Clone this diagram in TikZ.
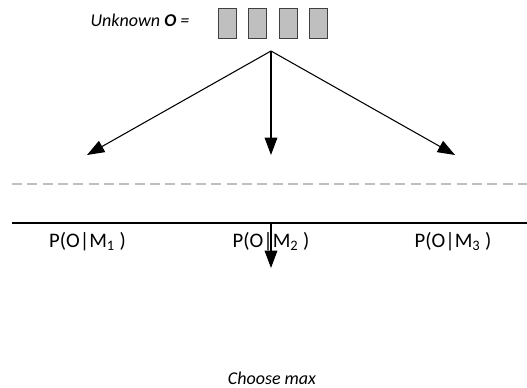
\documentclass[tikz,border=0pt]{standalone}
\usepackage{fontspec}
\setmainfont{Carlito}
\usepackage{tikz}
\usetikzlibrary{arrows.meta, positioning}

\begin{document}
\begin{tikzpicture}[
    x=0.75pt, y=-0.75pt,
    txt/.style={inner sep=0pt, font=\fontsize{13.5}{16}\selectfont},
    prob/.style={inner sep=0pt, font=\fontsize{15.5}{18}\selectfont},
    obsbox/.style={rectangle, draw=black!75, fill=black!25, line width=0.6pt, minimum width=13.5pt, minimum height=22.5pt, inner sep=0pt},
    arrow/.style={-{Triangle[length=13pt, width=9.5pt]}, line width=0.8pt},
]
\useasboundingbox (0,0) rectangle (527,388);
% observation sequence
\node[txt, font=\fontsize{13.5}{16}\selectfont\itshape] (unk) at (140,20) {Unknown \textbf{O} =};
\node[obsbox] (b1) at (227.5,23) {};
\node[obsbox] (b2) at (257.5,23) {};
\node[obsbox] (b3) at (288,23) {};
\node[obsbox] (b4) at (318,23) {};
\coordinate (top) at (271,51);
\coordinate (t1) at (87,155);
\coordinate (t2) at (271,155);
\coordinate (t3) at (455,155);
\draw[arrow] (top) -- (t1);
\draw[arrow] (top) -- (t2);
\draw[arrow] (top) -- (t3);
% separators
\draw[black!25, line width=0.8pt, dash pattern=on 7.5pt off 4pt] (12,184) -- (527,184);
\draw[line width=0.8pt] (12,223) coordinate (l0) -- (527,223) coordinate (l1);
% likelihoods
\node[prob] (p1) at (87.5,242) {P(O|M\textsubscript{1} )};
\node[prob] (p2) at (271,242) {P(O|M\textsubscript{2} )};
\node[prob] (p3) at (453,242) {P(O|M\textsubscript{3} )};
\coordinate (s) at (271,223);
\coordinate (e) at (271,268);
\draw[arrow] (s) -- (e);
\node[txt, font=\fontsize{13.5}{16}\selectfont\itshape] (ch) at (272,378) {Choose max};
\end{tikzpicture}
\end{document}
